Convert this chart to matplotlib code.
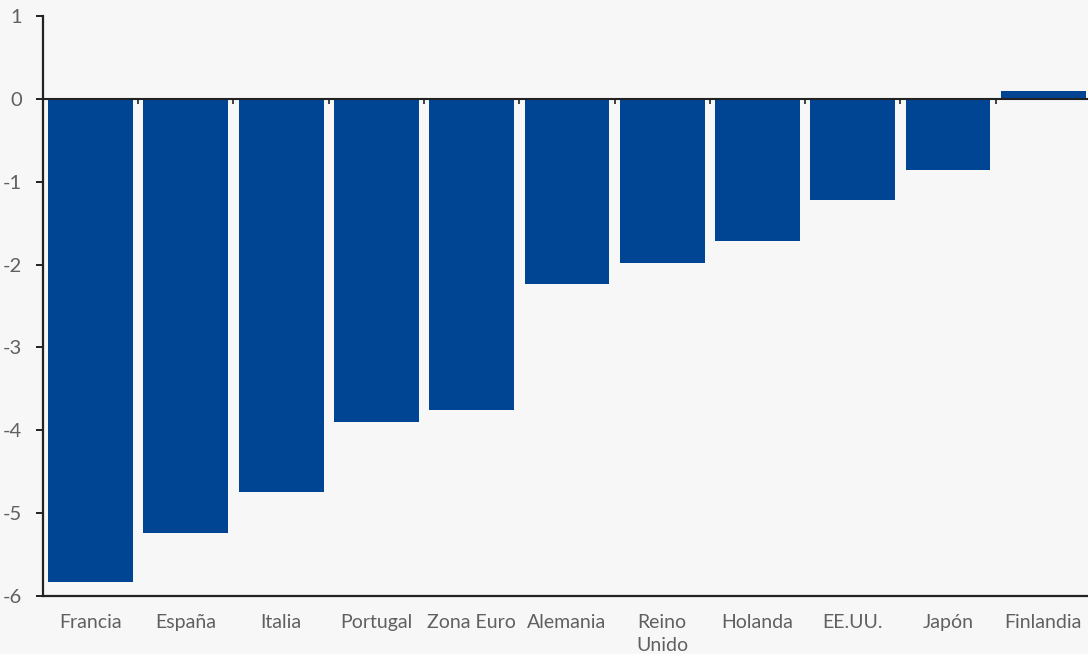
import matplotlib.pyplot as plt
import numpy as np

# Data
countries = ['Francia', 'España', 'Italia', 'Portugal', 'Zona Euro', 'Alemania',
             'Reino\nUnido', 'Holanda', 'EE.UU.', 'Japón', 'Finlandia']
values = [-5.83, -5.24, -4.75, -3.90, -3.75, -2.23, -1.98, -1.71, -1.22, -0.86, 0.10]
y_ticks = [1, 0, -1, -2, -3, -4, -5, -6]

bg = '#f7f7f7'
bar_blue = '#004593'
axis_dark = '#222222'
text_gray = '#606060'

plt.rcParams['font.family'] = ['Lato', 'DejaVu Sans']

fig = plt.figure(figsize=(10.88, 6.54), dpi=100, facecolor=bg)
ax = fig.add_axes([0.0395, 0.0887, 0.9605, 0.8869], facecolor=bg)

x = np.arange(len(countries))
ax.bar(x, values, width=0.89, color=bar_blue, zorder=2)

ax.set_xlim(-0.5, 10.47)
ax.set_ylim(-6, 1)

# Zero line with category separator ticks
ax.axhline(0, color=axis_dark, linewidth=1.5, zorder=3)
ax.vlines(x[:-1] + 0.5, -0.06, 0, color=axis_dark, linewidth=1.2, zorder=3)

for side in ['top', 'right']:
    ax.spines[side].set_visible(False)
ax.spines['left'].set_color(axis_dark)
ax.spines['left'].set_linewidth(1.6)
ax.spines['bottom'].set_color(axis_dark)
ax.spines['bottom'].set_linewidth(1.6)

ax.set_yticks(y_ticks)
ax.set_yticklabels([str(v) for v in y_ticks])
ax.tick_params(axis='y', direction='out', length=5, width=1.4, color=axis_dark,
               labelsize=14.5, labelcolor=text_gray, pad=10)
ax.set_xticks(x)
ax.set_xticklabels(countries, linespacing=1.4)
ax.tick_params(axis='x', length=0, labelsize=14, labelcolor=text_gray, pad=13)

fig.savefig('out.png', dpi=100, facecolor=bg)
plt.close(fig)
